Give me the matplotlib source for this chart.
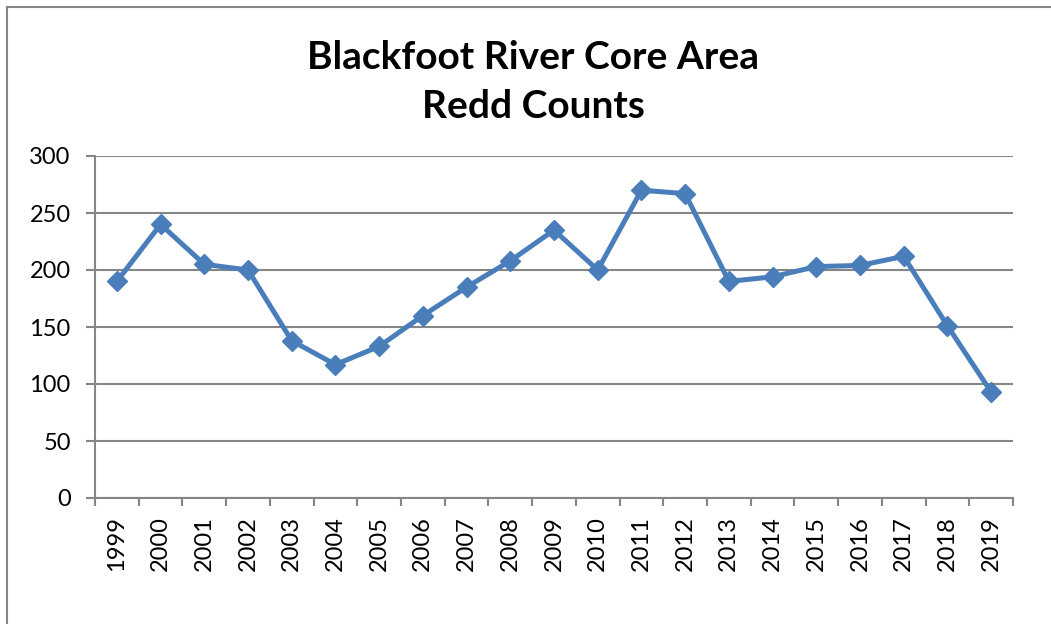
import matplotlib
matplotlib.use("Agg")
import matplotlib.pyplot as plt
from matplotlib.lines import Line2D

years = [str(y) for y in range(1999, 2020)]
redd_counts = [190, 240, 205, 200, 138, 117, 133, 160, 185, 208, 235,
               200, 270, 267, 190, 194, 203, 204, 212, 151, 93]
y_ticks = [0, 50, 100, 150, 200, 250, 300]
title_text = "Blackfoot River Core Area\nRedd Counts"

W, H = 1051, 624
fig = plt.figure(figsize=(W / 100, H / 100), dpi=100)
plt.rcParams['font.family'] = ['Lato', 'DejaVu Sans']

ax = fig.add_axes([95 / W, 1 - 498 / H, (1013 - 95) / W, (498 - 156) / H])

grey = '#868686'
x = list(range(len(years)))
ax.plot(x, redd_counts, color='#4A7EBB', linewidth=3.6, marker='D',
        markersize=10.5, markerfacecolor='#4A7EBB', markeredgecolor='#4A7EBB',
        zorder=3, clip_on=False)

ax.set_xlim(-0.5, len(years) - 0.5)
ax.set_ylim(0, 300)
ax.set_yticks(y_ticks)
ax.set_yticklabels([str(v) for v in y_ticks], fontsize=17)
ax.set_xticks(x)
ax.set_xticklabels(years, rotation=90, fontsize=17)
ax.set_xticks([i - 0.5 for i in range(len(years) + 1)], minor=True)
ax.tick_params(axis='x', which='major', length=0, pad=13)
ax.tick_params(axis='x', which='minor', length=5.5, width=1.5, color=grey)
ax.tick_params(axis='y', which='major', length=6.5, width=1.5, color=grey, pad=11)

ax.grid(axis='y', color=grey, linewidth=1.5)
ax.set_axisbelow(True)
for side in ['top', 'right']:
    ax.spines[side].set_visible(False)
for side in ['left', 'bottom']:
    ax.spines[side].set_color(grey)
    ax.spines[side].set_linewidth(1.5)

fig.text(533 / W, 1 - 82 / H, title_text, ha='center', va='center',
         fontsize=28, fontweight='bold', linespacing=1.5)

# outer chart border (left and top visible)
fig.add_artist(Line2D([7 / W, 7 / W], [0, 1 - 7 / H], transform=fig.transFigure,
                      color=grey, linewidth=1.5))
fig.add_artist(Line2D([7 / W, 1], [1 - 7 / H, 1 - 7 / H], transform=fig.transFigure,
                      color=grey, linewidth=1.5))

fig.savefig("out.png", dpi=100)
